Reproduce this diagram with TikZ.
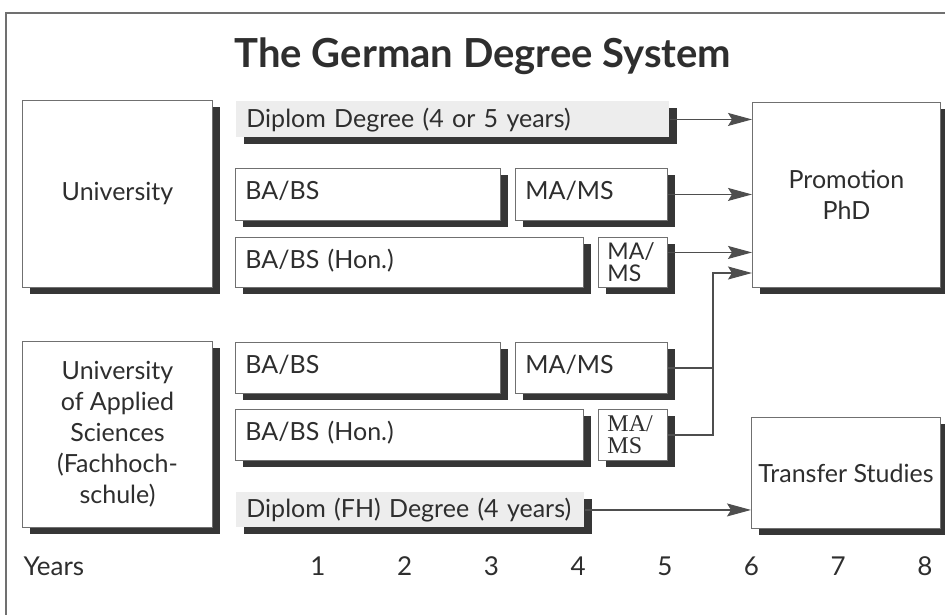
\documentclass[tikz,border=0pt]{standalone}
\usepackage{fontspec}
\setmainfont{Lato}
\newfontfamily\msserif{Liberation Serif}
\usetikzlibrary{arrows.meta,shadows,calc,positioning}
\definecolor{shade}{HTML}{363636}
\definecolor{edge}{HTML}{707070}
\definecolor{ink}{HTML}{2E2E2E}
\definecolor{barfill}{HTML}{EDEDED}
\tikzset{
  box/.style={draw=edge,line width=0.9pt,fill=white,anchor=north west,inner sep=0pt,text=ink,
    font=\fontsize{25}{31}\selectfont,
    drop shadow={shadow xshift=8pt,shadow yshift=-7pt,fill=shade,opacity=1}},
  row/.style={box,inner xsep=10pt,align=left,text depth=8pt},
  bar/.style={row,draw=none,fill=barfill,text depth=4pt},
  small/.style={box,inner xsep=9pt,align=left,font=\fontsize{23}{22}\selectfont},
  link/.style={draw=edge!70!black,line width=1.1pt},
  tip/.style={link,-{Stealth[length=24pt,width=13pt,inset=4pt]}},
}
\begin{document}
\begin{tikzpicture}[x=1pt,y=-1pt]
\useasboundingbox (0,0) rectangle (945,615);
\draw[edge,line width=1.5pt] (6,615) -- (6,13) -- (945,13);
\node[text=ink,font=\bfseries\fontsize{40}{44}\selectfont] (title) at (483,56) {The German Degree System};

\node[box,minimum width=190,minimum height=187,align=center] (uni) at (22,100) {University};
\node[box,minimum width=190,minimum height=186,align=center] (uas) at (22,341)
  {University\\of Applied\\Sciences\\(Fachhoch-\\schule)};

\node[bar,text width=413,minimum height=36] (dip) at (236,101) {Diplom Degree (4 or 5 years)};
\node[row,text width=245,minimum height=52] (ba1) at (235,168) {BA/BS};
\node[row,text width=132,minimum height=52] (ma1) at (515,168) {MA/MS};
\node[row,text width=328,minimum height=50] (bah1) at (235,237) {BA/BS (Hon.)};
\node[small,text width=51,minimum height=50] (mah1) at (598,237) {MA/\\MS};

\node[row,text width=245,minimum height=51] (ba2) at (235,342) {BA/BS};
\node[row,text width=132,minimum height=51] (ma2) at (515,342) {MA/MS};
\node[row,text width=328,minimum height=51] (bah2) at (235,409) {BA/BS (Hon.)};
\node[small,text width=51,minimum height=51,font=\msserif\fontsize{24}{22}\selectfont] (mah2) at (598,409) {MA/\\MS};
\node[bar,text width=328,minimum height=35] (dipfh) at (236,492) {Diplom (FH) Degree (4 years)};

\node[box,minimum width=188,minimum height=185,align=center] (phd) at (752,102) {Promotion\\PhD};
\node[box,minimum width=189,minimum height=111,align=center] (trans) at (751,417) {Transfer Studies};

\coordinate (m1) at ($(mah1.east)+(0,-10)$);
\coordinate (bend) at (713,273);
\draw[tip] (dip.east) -- (dip.east -| phd.west);
\draw[tip] (ma1.east) -- (ma1.east -| phd.west);
\draw[tip] (m1) -- (m1 -| phd.west);
\draw[link] (ma2.east) -- (ma2.east -| bend);
\draw[tip] (mah2.east) -| (bend) -- (bend -| phd.west);
\draw[tip] (dipfh.east) -- (dipfh.east -| trans.west);

\node[text=ink,anchor=base west,font=\fontsize{26}{30}\selectfont] (years) at (20,575) {Years};
\foreach \n in {1,...,8}
  \node[text=ink,anchor=base,font=\fontsize{26}{30}\selectfont] (y\n) at ({318+86.7*(\n-1)},575) {\n};
\end{tikzpicture}
\end{document}
